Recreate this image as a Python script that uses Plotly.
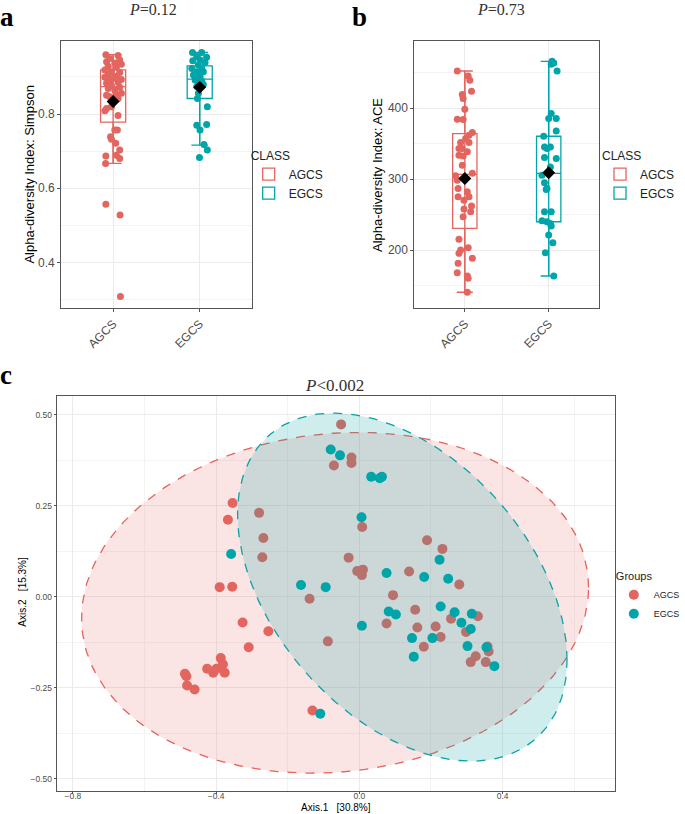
import numpy as np
import plotly.graph_objects as go

W, H = 685, 814
def px(x): return x / W
def py(y): return 1 - y / H

RED = "#E2665F"
TEAL = "#00A5AA"
groups = ["AGCS", "EGCS"]

# ---------------- Panel a : Simpson ----------------
simpson_agcs = [0.960, 0.958, 0.950, 0.946, 0.941, 0.938, 0.934, 0.929, 0.926, 0.919,
                0.914, 0.912, 0.907, 0.902, 0.899, 0.896, 0.893, 0.890, 0.883, 0.885,
                0.876, 0.872, 0.869, 0.865, 0.856, 0.851, 0.851, 0.847, 0.842, 0.820,
                0.815, 0.809, 0.796, 0.757, 0.757, 0.739, 0.732, 0.721, 0.703, 0.687,
                0.689, 0.680, 0.667, 0.557, 0.528, 0.308]
simpson_agcs_jit = [-0.084, 0.057, -0.038, 0.076, -0.076, 0.019, 0.095, -0.057, 0.038, -0.095,
                    -0.019, 0.076, -0.057, 0.038, -0.095, 0.000, 0.095, -0.038, -0.076, 0.057,
                    -0.019, 0.076, -0.057, 0.019, 0.095, -0.076, 0.038, -0.038, 0.057, -0.019,
                    -0.076, -0.095, 0.057, 0.019, 0.049, -0.030, -0.019, 0.030, 0.076, -0.084,
                    0.038, 0.076, -0.087, -0.084, 0.080, 0.084]
simpson_egcs = [0.966, 0.966, 0.955, 0.953, 0.944, 0.946, 0.939, 0.932, 0.923, 0.923,
                0.914, 0.914, 0.905, 0.901, 0.892, 0.889, 0.883, 0.880, 0.874, 0.856,
                0.842, 0.820, 0.770, 0.772, 0.757, 0.718, 0.703, 0.683]
simpson_egcs_jit = [-0.083, 0.023, -0.034, 0.080, -0.080, 0.004, 0.061, -0.015, -0.091, 0.023,
                    -0.034, 0.042, -0.072, 0.004, -0.053, 0.023, -0.015, 0.042, -0.034, -0.015,
                    -0.026, 0.088, -0.034, 0.080, 0.004, 0.049, 0.088, -0.003]
simpson_q1 = [0.778, 0.842]
simpson_median = [0.874, 0.894]
simpson_q3 = [0.919, 0.930]
simpson_lo = [0.667, 0.716]
simpson_hi = [0.960, 0.966]
simpson_mean = [0.834, 0.872]

# ---------------- Panel b : ACE ----------------
ace_agcs = [452.5, 445.5, 439.4, 423.9, 419.2, 413.6, 398.6, 384.5, 384.0, 365.7,
            362.0, 357.3, 351.6, 351.6, 343.2, 343.2, 338.5, 333.8, 332.8, 319.7,
            304.7, 308.4, 298.6, 286.9, 282.2, 275.1, 275.1, 270.4, 262.0, 257.8,
            254.0, 246.9, 215.1, 203.3, 200.0, 195.4, 188.3, 181.3, 168.1, 163.4,
            160.3, 140.5]
ace_agcs_jit = [-0.09, 0.04, 0.06, 0.08, -0.03, -0.02, 0.00, -0.09, -0.02, 0.09,
                0.05, 0.01, -0.05, 0.05, -0.07, -0.03, 0.03, -0.07, -0.02, -0.03,
                -0.11, 0.09, -0.09, -0.08, 0.03, -0.08, 0.05, -0.01, 0.08, -0.01,
                0.07, -0.02, -0.07, 0.04, -0.05, -0.07, 0.09, -0.08, -0.09, 0.03,
                0.04, 0.03]
ace_egcs = [466.1, 463.8, 461.9, 452.5, 392.5, 385.5, 385.5, 368.0, 360.5, 345.5,
            345.5, 343.2, 330.5, 329.1, 317.3, 305.6, 294.8, 286.9, 285.5, 254.0,
            254.0, 241.3, 239.9, 237.6, 233.8, 221.2, 210.3, 196.2, 163.4]
ace_egcs_jit = [0.04, 0.06, 0.03, 0.10, 0.03, 0.00, 0.09, 0.09, -0.06, -0.05,
                0.02, -0.02, -0.05, 0.09, 0.02, -0.08, -0.05, -0.02, -0.03, -0.05,
                0.03, -0.08, -0.02, 0.02, 0.03, 0.00, 0.05, -0.04, 0.06]
ace_q1 = [230.6, 239.9]
ace_median = [306.6, 308.0]
ace_q3 = [364.3, 360.5]
ace_lo = [140.5, 163.4]
ace_hi = [452.5, 466.1]
ace_mean = [301.0, 309.0]

# ---------------- Panel c : PCoA ----------------
pc_agcs_x = [-0.051, -0.022, -0.022, -0.071, -0.354, -0.367, -0.280, -0.268, -0.271, 0.008,
             -0.030, 0.189, 0.232, -0.006, 0.010, 0.007, 0.139, 0.279, -0.390, -0.355,
             0.094, -0.139, 0.156, 0.331, 0.256, 0.076, 0.162, 0.213, 0.298, 0.227,
             -0.326, -0.254, -0.088, -0.309, 0.180, 0.358, 0.361, 0.325, 0.311, 0.353,
             -0.387, -0.381, -0.425, -0.399, -0.408, -0.376, -0.487, -0.483, -0.481, -0.460,
             -0.131]
pc_agcs_y = [0.474, 0.383, 0.368, 0.361, 0.258, 0.212, 0.231, 0.162, 0.109, 0.192,
             0.108, 0.156, 0.132, 0.071, 0.075, 0.060, 0.070, 0.034, 0.027, 0.028,
             0.005, -0.005, -0.035, -0.053, -0.060, -0.073, -0.084, -0.081, -0.096, -0.110,
             -0.070, -0.094, -0.122, -0.138, -0.137, -0.136, -0.150, -0.163, -0.179, -0.179,
             -0.168, -0.185, -0.197, -0.197, -0.208, -0.208, -0.211, -0.218, -0.243, -0.254,
             -0.312]
pc_egcs_x = [-0.080, -0.054, 0.033, 0.057, 0.063, 0.006, -0.358, 0.224, 0.076, 0.181,
             0.248, -0.163, -0.094, 0.227, 0.082, 0.102, 0.266, 0.314, 0.007, 0.285,
             0.311, 0.147, 0.204, 0.302, 0.355, 0.152, 0.377, -0.109]
pc_egcs_y = [0.405, 0.389, 0.330, 0.326, 0.330, 0.219, 0.118, 0.102, 0.066, 0.055,
             0.050, 0.033, 0.027, -0.026, -0.040, -0.048, -0.042, -0.046, -0.079, -0.071,
             -0.088, -0.113, -0.113, -0.135, -0.138, -0.164, -0.190, -0.321]
# confidence ellipses: centre, x half-extent, y half-extent, covariance term
ell_cx = [-0.068, 0.120]
ell_cy = [-0.016, 0.027]
ell_sx = [0.708, 0.460]
ell_sy = [0.468, 0.478]
ell_sxy = [0.030, -0.092]


def ellipse(i, n=200):
    cov = np.array([[ell_sx[i] ** 2, ell_sxy[i]], [ell_sxy[i], ell_sy[i] ** 2]])
    L = np.linalg.cholesky(cov)
    t = np.linspace(0, 2 * np.pi, n)
    pts = L @ np.vstack([np.cos(t), np.sin(t)])
    return ell_cx[i] + pts[0], ell_cy[i] + pts[1]


fig = go.Figure()
colors = [RED, TEAL]

def box_panel(xa, ya, leg, q1, med, q3, lo, hi, mean, pts, jits):
    for i, g in enumerate(groups):
        fig.add_trace(go.Scatter(x=[i + 1, i + 1], y=[lo[i], hi[i]], mode="lines",
                                 line=dict(color=colors[i], width=1.3), showlegend=False,
                                 hoverinfo="skip", xaxis=xa, yaxis=ya))
        fig.add_trace(go.Box(x=[i + 1], q1=[q1[i]], median=[med[i]], q3=[q3[i]],
                             lowerfence=[lo[i]], upperfence=[hi[i]], width=0.29,
                             whiskerwidth=0.66, boxpoints=False, name=g,
                             line=dict(color=colors[i], width=1.3),
                             fillcolor="rgba(255,255,255,0)", xaxis=xa, yaxis=ya,
                             legend=leg, showlegend=True))
    for i, g in enumerate(groups):
        fig.add_trace(go.Scatter(x=[i + 1 + j for j in jits[i]], y=pts[i], mode="markers",
                                 marker=dict(color=colors[i], size=7), showlegend=False,
                                 xaxis=xa, yaxis=ya))
    fig.add_trace(go.Scatter(x=[1, 2], y=mean, mode="markers",
                             marker=dict(color="black", symbol="diamond", size=10),
                             showlegend=False, xaxis=xa, yaxis=ya))

box_panel("x", "y", "legend", simpson_q1, simpson_median, simpson_q3, simpson_lo, simpson_hi,
          simpson_mean, [simpson_agcs, simpson_egcs], [simpson_agcs_jit, simpson_egcs_jit])
box_panel("x2", "y2", "legend2", ace_q1, ace_median, ace_q3, ace_lo, ace_hi,
          ace_mean, [ace_agcs, ace_egcs], [ace_agcs_jit, ace_egcs_jit])

# Panel c
ex, ey = ellipse(0)
fig.add_trace(go.Scatter(x=ex, y=ey, mode="lines", fill="toself",
                         fillcolor="rgba(230,125,118,0.2)",
                         line=dict(color="#E8625A", width=1.3, dash="dash"),
                         showlegend=False, hoverinfo="skip", xaxis="x3", yaxis="y3"))
fig.add_trace(go.Scatter(x=pc_agcs_x, y=pc_agcs_y, mode="markers", name="AGCS",
                         marker=dict(color=RED, size=10), legend="legend3",
                         xaxis="x3", yaxis="y3"))
ex, ey = ellipse(1)
fig.add_trace(go.Scatter(x=ex, y=ey, mode="lines", fill="toself",
                         fillcolor="rgba(20,165,170,0.2)",
                         line=dict(color="#0BA2A6", width=1.3, dash="dash"),
                         showlegend=False, hoverinfo="skip", xaxis="x3", yaxis="y3"))
fig.add_trace(go.Scatter(x=pc_egcs_x, y=pc_egcs_y, mode="markers", name="EGCS",
                         marker=dict(color=TEAL, size=10), legend="legend3",
                         xaxis="x3", yaxis="y3"))

GRID = "#EBEBEB"
MINOR = "#F3F3F3"
BORDER = "#555555"
TICKF = dict(family="Liberation Sans, Arial", size=12, color="#4D4D4D")
TICKF_C = dict(family="Liberation Sans, Arial", size=8.5, color="#4D4D4D")

def base_axis(**kw):
    d = dict(showline=True, mirror=True, linecolor=BORDER, linewidth=1.2,
             showgrid=True, gridcolor=GRID, gridwidth=1, zeroline=False,
             ticks="outside", ticklen=3, tickcolor="#555555", tickfont=TICKF)
    d.update(kw)
    return d

LEGF = dict(family="Liberation Sans, Arial", size=12, color="#222")
fig.update_layout(
    width=W, height=H, autosize=False,
    margin=dict(l=0, r=0, t=0, b=0),
    paper_bgcolor="white", plot_bgcolor="white",
    xaxis=base_axis(domain=[px(62), px(255)], range=[0.4, 2.6], tickvals=[1, 2],
                    ticktext=groups, tickangle=-45, anchor="y"),
    yaxis=base_axis(domain=[py(308), py(41)], range=[0.277, 0.997], tick0=0, dtick=0.2,
                    tickformat=".1f", anchor="x",
                    minor=dict(tick0=0, dtick=0.1, showgrid=True, gridcolor=MINOR, gridwidth=0.6)),
    xaxis2=base_axis(domain=[px(420), px(607)], range=[0.4, 2.6], tickvals=[1, 2],
                     ticktext=groups, tickangle=-45, anchor="y2"),
    yaxis2=base_axis(domain=[py(308), py(41)], range=[118.3, 494.8], tick0=0, dtick=100,
                     anchor="x2",
                     minor=dict(tick0=0, dtick=50, showgrid=True, gridcolor=MINOR, gridwidth=0.6)),
    xaxis3=base_axis(domain=[px(57.5), px(623.6)], range=[-0.845, 0.715], tick0=0, dtick=0.4,
                     tickformat=".1f", tickfont=TICKF_C, anchor="y3", ticklen=2,
                     ticklabelstandoff=-5,
                     minor=dict(tick0=0, dtick=0.2, showgrid=True, gridcolor=MINOR, gridwidth=0.6)),
    yaxis3=base_axis(domain=[py(791), py(396)], range=[-0.533, 0.552], tick0=0, dtick=0.25,
                     tickformat=".2f", tickfont=TICKF_C, anchor="x3", ticklen=2,
                     minor=dict(tick0=0, dtick=0.125, showgrid=True, gridcolor=MINOR, gridwidth=0.6)),
    legend=dict(x=px(252), y=py(144), xanchor="left", yanchor="top", itemwidth=30,
                title=dict(text="CLASS", font=LEGF), font=LEGF,
                bgcolor="rgba(0,0,0,0)"),
    legend2=dict(x=px(608), y=py(144), xanchor="left", yanchor="top", itemwidth=30,
                 title=dict(text="CLASS", font=LEGF), font=LEGF,
                 bgcolor="rgba(0,0,0,0)"),
    legend3=dict(x=px(622), y=py(566), xanchor="left", yanchor="top", itemwidth=30,
                 title=dict(text="Groups", font=dict(family="Liberation Sans, Arial", size=11, color="#222")),
                 font=dict(family="Liberation Sans, Arial", size=9, color="#222"),
                 bgcolor="rgba(0,0,0,0)"),
)

SERIF = "Liberation Serif, Times New Roman, serif"
NARROW = "Liberation Sans Narrow, Arial Narrow, Liberation Sans"
ann = [
    dict(text="<b>a</b>", x=px(7), y=1, yanchor="top", font=dict(family=SERIF, size=27, color="black")),
    dict(text="<b>b</b>", x=px(364), y=1, yanchor="top", font=dict(family=SERIF, size=27, color="black")),
    dict(text="<b>c</b>", x=px(6), y=py(375), font=dict(family=SERIF, size=27, color="black")),
    dict(text="<i>P</i>=0.12", x=px(155), y=py(9), font=dict(family=SERIF, size=16, color="#333")),
    dict(text="<i>P</i>=0.73", x=px(508), y=py(9), font=dict(family=SERIF, size=16, color="#333")),
    dict(text="<i>P</i>&lt;0.002", x=px(339), y=py(385), font=dict(family=SERIF, size=17, color="#333")),
    dict(text="Alpha-diversity Index: Simpson", x=px(30), y=py(175), textangle=-90,
         font=dict(family=NARROW, size=13, color="black")),
    dict(text="Alpha-diversity Index: ACE", x=px(383), y=py(175), textangle=-90,
         font=dict(family=NARROW, size=13, color="black")),
    dict(text="Axis.1   [30.8%]", x=px(340), y=0, yanchor="bottom", borderpad=0,
         font=dict(family="Liberation Sans, Arial", size=10, color="black")),
    dict(text="Axis.2   [15.3%]", x=px(22), y=py(592), textangle=-90,
         font=dict(family="Liberation Sans, Arial", size=10, color="black")),
]
for a in ann:
    a.setdefault("yanchor", "middle")
    a.update(xref="paper", yref="paper", showarrow=False, xanchor="center")
fig.update_layout(annotations=ann)

fig.write_html("out.html", config={"displayModeBar": False},
               post_script="document.body.style.margin='0';document.body.style.padding='0';")
